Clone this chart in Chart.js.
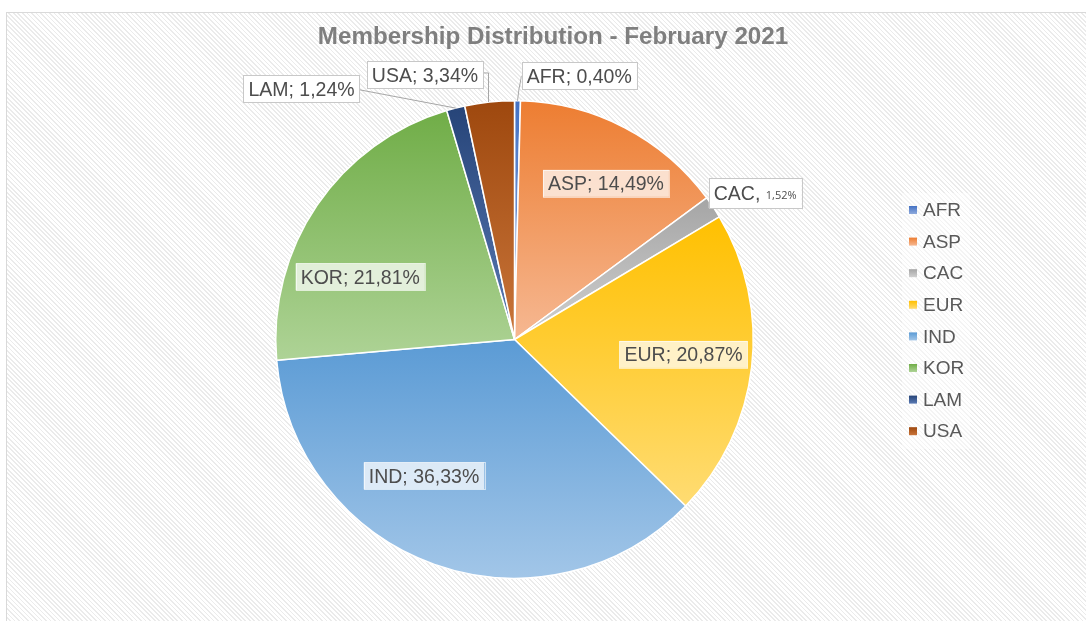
<!DOCTYPE html>
<html><head><meta charset="utf-8">
<script src="https://cdn.jsdelivr.net/npm/chart.js@4.4.1/dist/chart.umd.min.js"></script>
<style>
html,body{margin:0;padding:0;background:#fff;overflow:hidden;width:1086px;height:621px;}
#frame{position:absolute;left:6px;top:12px;width:1100px;height:640px;border:1px solid #d9d9d9;
background:repeating-linear-gradient(45deg,#ffffff 0px,#ffffff 2px,#ebebeb 2px,#ebebeb 3.2px);}
#c{position:absolute;left:0;top:0;}
</style></head>
<body>
<div id="frame"></div>
<canvas id="c" width="1086" height="621"></canvas>
<script>
// ---- data ----
const chartTitle = 'Membership Distribution - February 2021';
const categories = ['AFR','ASP','CAC','EUR','IND','KOR','LAM','USA'];
const shares = [0.40, 14.49, 1.52, 20.87, 36.33, 21.81, 1.24, 3.34];
const labelSeparators = ['; ','; ',', ','; ','; ','; ','; ','; '];

// ---- styles ----
const topColors   = ['#4472C4','#ED7D31','#A5A5A5','#FFC000','#5B9BD5','#70AD47','#264478','#9E480E'];
const bottomColors= ['#8FAADC','#F6B892','#D0D0D0','#FFDC73','#A2C6E8','#AED396','#5A7AB4','#C9753A'];
// label centre relative to pie centre, in units of radius
const labelOffsets = [[0.271,-1.105],[0.383,-0.654],[1.008,-0.613],[0.708,0.0625],[-0.379,0.571],[-0.646,-0.2625],[-0.892,-1.05],[-0.375,-1.108]];
const leaderKind = ['left','none','none','none','none','none','right','rightv'];
const outsideLabel = [true,false,true,false,false,false,true,true];
const valueFontSizes = [19.5,19.5,11,19.5,19.5,19.5,19.5,19.5];

function fmt(v){ return v.toFixed(2).replace('.',',') + '%'; }

function sliceGradient(ctx){
  const chart = ctx.chart, ca = chart.chartArea, i = ctx.dataIndex;
  if(!ca) return topColors[i];
  const cx=(ca.left+ca.right)/2, cy=(ca.top+ca.bottom)/2;
  const r=Math.min(ca.right-ca.left, ca.bottom-ca.top)/2;
  const total = shares.reduce((a,b)=>a+b,0);
  let before=0; for(let k=0;k<i;k++) before+=shares[k];
  const a0 = before/total*2*Math.PI - Math.PI/2;
  const a1 = (before+shares[i])/total*2*Math.PI - Math.PI/2;
  const ys=[cy, cy+r*Math.sin(a0), cy+r*Math.sin(a1)];
  for(const t of [-Math.PI/2, Math.PI/2, 3*Math.PI/2]) if(t>=a0 && t<=a1) ys.push(cy+r*Math.sin(t));
  const y0=Math.min(...ys), y1=Math.max(...ys);
  const g = chart.ctx.createLinearGradient(0,y0,0,Math.max(y1,y0+1));
  g.addColorStop(0, topColors[i]);
  g.addColorStop(1, bottomColors[i]);
  return g;
}

const FONT = '"Liberation Sans", Arial, sans-serif';
const LF = 19.5;

const decorPlugin = {
  id:'decor',
  afterDraw(chart){
    const ctx = chart.ctx;
    ctx.save();
    // title
    ctx.font = 'bold 24.2px ' + FONT;
    ctx.fillStyle = '#7f7f7f';
    ctx.textAlign = 'center'; ctx.textBaseline = 'middle';
    ctx.fillText(chartTitle, 553, 37);
    // legend
    ctx.fillStyle = 'rgba(255,255,255,0.45)';
    ctx.fillRect(902, 193, 68, 256);
    ctx.font = '19px ' + FONT;
    ctx.textAlign = 'left';
    categories.forEach((c,i)=>{
      const y = 210 + i*31.6;
      const g = ctx.createLinearGradient(0,y-4,0,y+4);
      g.addColorStop(0, topColors[i]); g.addColorStop(1, bottomColors[i]);
      ctx.fillStyle = g;
      ctx.fillRect(909, y-4, 8, 8);
      ctx.fillStyle = '#595959';
      ctx.fillText(c, 923, y+1);
    });
    ctx.restore();
  },
  afterDatasetsDraw(chart){
    const ctx = chart.ctx, meta = chart.getDatasetMeta(0);
    ctx.save();
    meta.data.forEach((arc,i)=>{
      const r = arc.outerRadius, cx = arc.x, cy = arc.y;
      const mid = (arc.startAngle+arc.endAngle)/2;
      const ex = cx+Math.cos(mid)*r, ey = cy+Math.sin(mid)*r;
      const lx = cx+labelOffsets[i][0]*r, ly = cy+labelOffsets[i][1]*r;
      const head = categories[i] + labelSeparators[i];
      const val = fmt(shares[i]);
      const small = valueFontSizes[i] < LF;
      ctx.font = LF + 'px ' + FONT;
      const w1 = ctx.measureText(head).width;
      const vf = small ? (valueFontSizes[i] + 'px "Open Sans", ' + FONT) : (LF + 'px ' + FONT);
      ctx.font = vf;
      const w2 = ctx.measureText(val).width;
      const tw = w1 + w2;
      const bw = tw + 10, bh = small ? 30 : 27;
      const bx = lx - bw/2, by = ly - bh/2;
      // leader
      ctx.strokeStyle = '#a6a6a6'; ctx.lineWidth = 1;
      ctx.beginPath();
      if(leaderKind[i]==='left'){ ctx.moveTo(bx, ly); ctx.lineTo(ex+1.5, ey-12); ctx.lineTo(ex, ey); }
      else if(leaderKind[i]==='rightv'){ ctx.moveTo(bx+bw, ly-2); ctx.lineTo(ex-1, ly-2); ctx.lineTo(ex-1, ey); }
      else if(leaderKind[i]==='right'){ ctx.moveTo(bx+bw, ly+1); ctx.lineTo(ex, ey); }
      ctx.stroke();
      // box
      if(outsideLabel[i]){
        ctx.fillStyle = '#ffffff'; ctx.fillRect(bx, by, bw, bh);
        ctx.strokeStyle = '#c8c8c8'; ctx.strokeRect(Math.round(bx)+0.5, Math.round(by)+0.5, Math.round(bw), Math.round(bh));
      } else {
        ctx.fillStyle = 'rgba(255,255,255,0.72)'; ctx.fillRect(bx, by, bw, bh);
        ctx.strokeStyle = 'rgba(255,255,255,0.6)'; ctx.strokeRect(Math.round(bx)+0.5, Math.round(by)+0.5, Math.round(bw), Math.round(bh));
      }
      // text
      ctx.fillStyle = '#4d4d4d'; ctx.textAlign='left'; ctx.textBaseline='alphabetic';
      const base = ly + 7;
      ctx.font = LF + 'px ' + FONT;
      ctx.fillText(head, bx+5, base);
      ctx.font = vf;
      ctx.fillText(val, bx+5+w1, base - (small ? 1 : 0));
    });
    ctx.restore();
  }
};

new Chart(document.getElementById('c'), {
  type:'pie',
  data:{
    labels: categories,
    datasets:[{
      data: shares,
      backgroundColor: sliceGradient,
      borderColor:'#ffffff',
      borderWidth:1.5
    }]
  },
  options:{
    responsive:false,
    animation:false,
    events:[],
    layout:{padding:{left:275, right:332, top:99, bottom:41}},
    plugins:{legend:{display:false}, title:{display:false}, tooltip:{enabled:false}}
  },
  plugins:[decorPlugin]
});
</script>
</body></html>
